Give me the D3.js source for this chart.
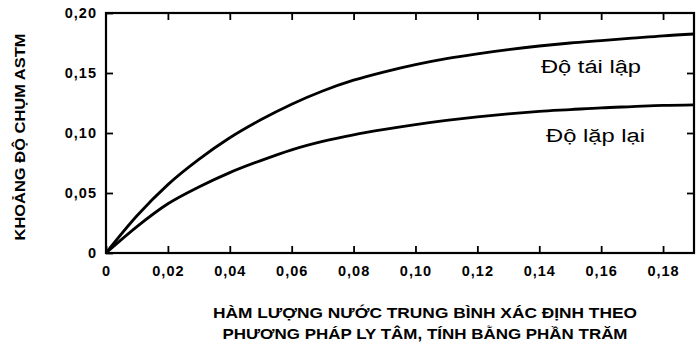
<!DOCTYPE html>
<html>
<head>
<meta charset="utf-8">
<script src="https://cdn.jsdelivr.net/npm/d3@7"></script>
<style>
  body { margin: 0; background: #fff; }
  text { font-family: "Liberation Sans", Arial, sans-serif; fill: #000; }
</style>
</head>
<body>
<script>
// values
var xValues = [0, 0.01, 0.02, 0.03, 0.04, 0.05, 0.06, 0.07, 0.08, 0.09, 0.10,
               0.11, 0.12, 0.13, 0.14, 0.15, 0.16, 0.17, 0.18, 0.19];
var taiLap = [0, 0.031, 0.057, 0.078, 0.096, 0.111, 0.124, 0.135, 0.144, 0.151, 0.157,
              0.162, 0.166, 0.1695, 0.1725, 0.175, 0.177, 0.179, 0.181, 0.1825];
var lapLai = [0, 0.022, 0.041, 0.055, 0.067, 0.077, 0.086, 0.093, 0.0985, 0.103, 0.107,
              0.1105, 0.1135, 0.116, 0.118, 0.1195, 0.121, 0.122, 0.123, 0.1235];
var xTicks = [0, 0.02, 0.04, 0.06, 0.08, 0.10, 0.12, 0.14, 0.16, 0.18];
var yTicks = [0, 0.05, 0.10, 0.15, 0.20];
var seriesNames = ["Độ tái lập", "Độ lặp lại"];

var w = 697, h = 352;
var plotL = 106, plotR = 694, plotT = 13, plotB = 253;

var svg = d3.select("body").append("svg")
    .attr("width", w)
    .attr("height", h);

var x = d3.scaleLinear().domain([0, 0.19]).range([plotL, plotR]);
var y = d3.scaleLinear().domain([0, 0.20]).range([plotB, plotT]);

function fmt(d) {
    if (d === 0) return "0";
    return d3.format(".2f")(d).replace(".", ",");
}

// frame
svg.append("rect")
    .attr("x", plotL).attr("y", plotT)
    .attr("width", plotR - plotL).attr("height", plotB - plotT)
    .attr("fill", "none").attr("stroke", "#000").attr("stroke-width", 2.2);

// bottom axis, ticks pointing inward
var xAxis = svg.append("g")
    .attr("transform", "translate(0," + plotB + ")")
    .call(d3.axisBottom(x).tickValues(xTicks).tickSizeInner(-7).tickSizeOuter(0).tickPadding(13).tickFormat(fmt));
// top mirrored ticks
var xTop = svg.append("g")
    .attr("transform", "translate(0," + plotT + ")")
    .call(d3.axisTop(x).tickValues(xTicks.slice(1)).tickSizeInner(-7).tickSizeOuter(0).tickFormat(""));
// left axis
var yAxis = svg.append("g")
    .attr("transform", "translate(" + plotL + ",0)")
    .call(d3.axisLeft(y).tickValues(yTicks).tickSizeInner(-7).tickSizeOuter(0).tickPadding(9).tickFormat(fmt));
// right mirrored ticks
var yRight = svg.append("g")
    .attr("transform", "translate(" + plotR + ",0)")
    .call(d3.axisRight(y).tickValues([0.05, 0.10, 0.15]).tickSizeInner(-7).tickSizeOuter(0).tickFormat(""));

svg.selectAll(".domain").remove();
svg.selectAll(".tick line").attr("stroke", "#000").attr("stroke-width", 1.8);
svg.selectAll(".tick text")
    .style("font-size", "14.5px")
    .style("font-weight", "bold")
    .style("letter-spacing", "1px")
    .style("font-family", "'Liberation Sans', Arial, sans-serif");
xAxis.selectAll(".tick text").attr("dy", "0.71em");

// curves
var line = d3.line()
    .x(function(d, i){ return x(xValues[i]); })
    .y(function(d){ return y(d); })
    .curve(d3.curveMonotoneX);

[taiLap, lapLai].forEach(function(s){
    svg.append("path")
        .datum(s)
        .attr("d", line)
        .attr("fill", "none")
        .attr("stroke", "#000")
        .attr("stroke-width", 2.8);
});

// curve labels
svg.append("text")
    .attr("x", 541).attr("y", 73)
    .attr("textLength", 100).attr("lengthAdjust", "spacingAndGlyphs")
    .style("font-size", "18px")
    .text(seriesNames[0]);
svg.append("text")
    .attr("x", 546).attr("y", 142)
    .attr("textLength", 99).attr("lengthAdjust", "spacingAndGlyphs")
    .style("font-size", "18px")
    .text(seriesNames[1]);

// y axis title
svg.append("text")
    .attr("transform", "translate(25,137) rotate(-90)")
    .attr("text-anchor", "middle")
    .attr("textLength", 207).attr("lengthAdjust", "spacingAndGlyphs")
    .style("font-size", "15px")
    .style("font-weight", "bold")
    .text("KHOẢNG ĐỘ CHỤM ASTM");

// x axis title
svg.append("text")
    .attr("x", 425).attr("y", 318)
    .attr("text-anchor", "middle")
    .attr("textLength", 424).attr("lengthAdjust", "spacingAndGlyphs")
    .style("font-size", "14.5px")
    .style("font-weight", "bold")
    .text("HÀM LƯỢNG NƯỚC TRUNG BÌNH XÁC ĐỊNH THEO");
svg.append("text")
    .attr("x", 425).attr("y", 339)
    .attr("text-anchor", "middle")
    .attr("textLength", 405).attr("lengthAdjust", "spacingAndGlyphs")
    .style("font-size", "14.5px")
    .style("font-weight", "bold")
    .text("PHƯƠNG PHÁP LY TÂM, TÍNH BẰNG PHẦN TRĂM");
</script>
</body>
</html>
